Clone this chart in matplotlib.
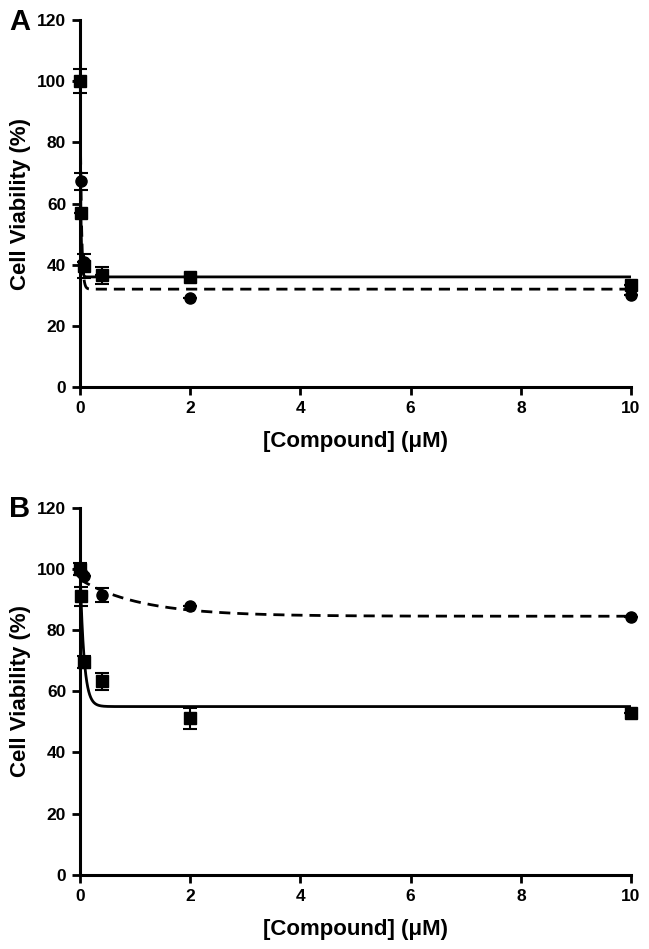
import numpy as np
import matplotlib
matplotlib.use("Agg")
import matplotlib.pyplot as plt

plt.rcParams['font.family'] = ['Liberation Sans', 'DejaVu Sans']
plt.rcParams['font.weight'] = 'bold'

# concentrations (uM)
conc = [0, 0.016, 0.08, 0.4, 2, 10]

# panel A
a_sq = [100, 57, 39.5, 36.5, 36, 33.5]
a_sq_err = [4, 0, 4, 2.7, 0, 0]
a_ci = [100, 67.3, 41, 36.5, 29, 30]
a_ci_err = [0, 2.8, 0, 0, 0, 0]

# panel B
b_sq = [100, 91, 69.5, 63.2, 51.2, 53]
b_sq_err = [2, 3, 1.9, 2.7, 3.4, 0]
b_ci = [100, 99, 97.5, 91.5, 88, 84.3]
b_ci_err = [0, 0, 0, 2.2, 0, 0]

# fitted decay curves: (top, bottom, rate)
a_sq_fit = (100, 36, 69)
a_ci_fit = (100, 32, 42)
b_sq_fit = (100, 55, 14)
b_ci_fit = (96.5, 84.5, 0.9)

xfit = np.linspace(0, 10, 4000)


def decay(p):
    top, bottom, k = p
    return bottom + (top - bottom) * np.exp(-k * xfit)


fig = plt.figure(figsize=(6.49, 9.49), dpi=100)
ax_a = fig.add_axes([0.1233, 0.5922, 0.849, 0.3867])
ax_b = fig.add_axes([0.1233, 0.078, 0.849, 0.3872])

panels = [
    (ax_a, "A", a_sq, a_sq_err, a_ci, a_ci_err, a_sq_fit, a_ci_fit),
    (ax_b, "B", b_sq, b_sq_err, b_ci, b_ci_err, b_sq_fit, b_ci_fit),
]

for ax, letter, sq, sq_err, ci, ci_err, sq_fit, ci_fit in panels:
    ax.plot(xfit, decay(ci_fit), color='black', lw=2, ls=(0, (4, 2.5)), zorder=2)
    ax.plot(xfit, decay(sq_fit), color='black', lw=2, ls='-', zorder=2)
    for y, err, mk, z in [(ci, ci_err, 'o', 3), (sq, sq_err, 's', 4)]:
        cont = ax.errorbar(conc, y, yerr=err, fmt=mk, color='black', ms=8,
                           capsize=5, elinewidth=1.5, capthick=1.5, zorder=z)
        for art in cont.get_children():
            art.set_clip_on(False)

    ax.set_xlim(0, 10)
    ax.set_ylim(0, 120)
    ax.set_xticks([0, 2, 4, 6, 8, 10])
    ax.set_yticks([0, 20, 40, 60, 80, 100, 120])
    for s in ['top', 'right']:
        ax.spines[s].set_visible(False)
    for s in ['left', 'bottom']:
        ax.spines[s].set_linewidth(2.2)
    ax.tick_params(width=2, length=6, labelsize=12.5, pad=4)
    for lbl in ax.get_xticklabels() + ax.get_yticklabels():
        lbl.set_fontweight('bold')
    ax.set_xlabel("[Compound] (μM)", fontsize=16, fontweight='bold', labelpad=11)
    ax.set_ylabel("Cell Viability (%)", fontsize=16, fontweight='bold', labelpad=4)
    ax.text(-0.091, 0.995, letter, transform=ax.transAxes, fontsize=21,
            fontweight='bold', ha='right', va='center')

fig.savefig("out.png", dpi=100)
